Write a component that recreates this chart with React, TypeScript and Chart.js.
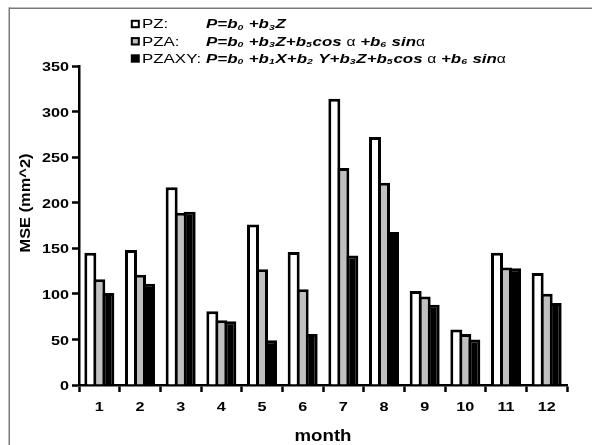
import React, { useEffect, useRef } from "react";
import { Chart, registerables } from "chart.js";

Chart.register(...registerables);

// ---- data ----
const months = ["1", "2", "3", "4", "5", "6", "7", "8", "9", "10", "11", "12"];
const pzValues = [145, 148, 217, 81, 176, 146, 314, 272, 103, 61, 145, 123];
const pzaValues = [116, 121, 189, 71, 127, 105, 238, 222, 97, 56, 129, 100];
const pzaxyValues = [101, 111, 190, 70, 49, 56, 142, 168, 88, 50, 128, 90];
const yMin = 0;
const yMax = 350;
const yStep = 50;
const seriesNames = ["PZ:", "PZA:", "PZAXY:"];
const seriesColors = ["#ffffff", "#c0c0c0", "#000000"];
const xTitle = "month";
const yTitle = "MSE (mm^2)";
// formula pieces: m = main (bold italic), s = subscript, a = alpha
const formulaPZ: [string, string][] = [
  ["m", "P=b"], ["s", "0"], ["m", " +b"], ["s", "3"], ["m", "Z"],
];
const formulaPZA: [string, string][] = [
  ["m", "P=b"], ["s", "0"], ["m", " +b"], ["s", "3"], ["m", "Z+b"], ["s", "5"],
  ["m", "cos "], ["a", "α"], ["m", " +b"], ["s", "6"], ["m", " sin"], ["a", "α"],
];
const formulaPZAXY: [string, string][] = [
  ["m", "P=b"], ["s", "0"], ["m", " +b"], ["s", "1"], ["m", "X+b"], ["s", "2"],
  ["m", " Y+b"], ["s", "3"], ["m", "Z+b"], ["s", "5"], ["m", "cos "], ["a", "α"],
  ["m", " +b"], ["s", "6"], ["m", " sin"], ["a", "α"],
];
const formulas = [formulaPZ, formulaPZA, formulaPZAXY];

const FONT = "'Liberation Sans', Arial, Helvetica, sans-serif";

function drawText(
  ctx: CanvasRenderingContext2D,
  text: string,
  x: number,
  y: number,
  font: string,
  sx: number,
  align: CanvasTextAlign,
  baseline: CanvasTextBaseline = "alphabetic"
) {
  ctx.save();
  ctx.font = font;
  ctx.fillStyle = "#000";
  ctx.translate(x, y);
  ctx.scale(sx, 1);
  ctx.textAlign = align;
  ctx.textBaseline = baseline;
  ctx.fillText(text, 0, 0);
  ctx.restore();
}

const decorPlugin = {
  id: "decor",
  afterDraw(chart: any) {
    const ctx: CanvasRenderingContext2D = chart.ctx;
    const xs = chart.scales.x;
    const ys = chart.scales.y;
    const area = chart.chartArea;

    // frame lines (top, left)
    ctx.save();
    ctx.fillStyle = "#7a7a7a";
    ctx.fillRect(9, 7.5, chart.width - 9, 1.5);
    ctx.fillRect(8.5, 7.5, 1.5, chart.height - 7.5);
    ctx.restore();

    // y tick labels
    ys.ticks.forEach((t: any, i: number) => {
      const py = ys.getPixelForTick(i);
      drawText(ctx, String(t.value), 69, py + 5.2, `bold 13.5px ${FONT}`, 1.2, "right");
    });
    // x tick labels
    xs.ticks.forEach((t: any, i: number) => {
      const px = xs.getPixelForTick(i);
      drawText(ctx, months[i], px, 411, `bold 13.5px ${FONT}`, 1.2, "center");
    });
    // x title
    drawText(ctx, xTitle, (area.left + area.right) / 2, 441, `bold 16.5px ${FONT}`, 1.13, "center");
    // y title (rotated)
    ctx.save();
    ctx.translate(26, 203);
    ctx.rotate(-Math.PI / 2);
    ctx.scale(1.06, 1);
    ctx.font = `bold 15.5px ${FONT}`;
    ctx.fillStyle = "#000";
    ctx.textAlign = "center";
    ctx.textBaseline = "middle";
    ctx.fillText(yTitle, 0, 0);
    ctx.restore();

    // legend
    const sx = 1.3;
    const baselines = [28.3, 45.6, 62.8];
    seriesNames.forEach((name, i) => {
      const by = baselines[i];
      ctx.save();
      ctx.fillStyle = "#000";
      ctx.fillRect(130.8, by - 8.5, 9, 8.4);
      ctx.fillStyle = seriesColors[i];
      ctx.fillRect(132.8, by - 6.5, 5, 4.4);
      ctx.restore();
      drawText(ctx, name, 142, by, `13px ${FONT}`, sx, "left");
      let cx = 206;
      formulas[i].forEach(([kind, txt]) => {
        let font = `italic bold 13px ${FONT}`;
        let dy = 0;
        if (kind === "s") {
          font = `italic bold 8px ${FONT}`;
          dy = 1.5;
        } else if (kind === "a") {
          font = `12px ${FONT}`;
        }
        ctx.save();
        ctx.font = font;
        const w = ctx.measureText(txt).width * sx;
        ctx.restore();
        drawText(ctx, txt, cx, by + dy, font, sx, "left");
        cx += w + (kind === "s" ? 0.8 : 0);
      });
    });
  },
};

export default function App() {
  const canvasRef = useRef<HTMLCanvasElement | null>(null);

  useEffect(() => {
    const canvas = canvasRef.current;
    if (!canvas) return;
    const mk = (label: string, data: number[], color: string) => ({
      label,
      data,
      backgroundColor: color,
      borderColor: "#000000",
      borderWidth: 3,
      categoryPercentage: 0.664,
      barPercentage: 1.333,
    });
    const chart = new Chart(canvas, {
      type: "bar",
      data: {
        labels: months,
        datasets: [
          mk("PZ", pzValues, seriesColors[0]),
          mk("PZA", pzaValues, seriesColors[1]),
          mk("PZAXY", pzaxyValues, seriesColors[2]),
        ],
      },
      options: {
        responsive: false,
        animation: false,
        devicePixelRatio: 1,
        layout: { padding: { top: 66, right: 25, left: 0, bottom: 0 } },
        plugins: { legend: { display: false }, tooltip: { enabled: false } },
        scales: {
          x: {
            grid: {
              display: true,
              drawOnChartArea: false,
              drawTicks: true,
              tickLength: 7,
              tickColor: "#000",
              tickWidth: 2.5,
              offset: true,
            },
            border: { display: true, color: "#000", width: 2.5 },
            ticks: { display: false },
            afterFit: (s: any) => {
              s.height = 60;
            },
          },
          y: {
            min: yMin,
            max: yMax,
            ticks: { display: false, stepSize: yStep },
            grid: {
              display: true,
              drawOnChartArea: false,
              drawTicks: true,
              tickLength: 7,
              tickColor: "#000",
              tickWidth: 2.5,
            },
            border: { display: true, color: "#000", width: 2.5 },
            afterFit: (s: any) => {
              s.width = 79;
            },
          },
        },
      } as any,
      plugins: [decorPlugin],
    });
    return () => chart.destroy();
  }, []);

  return (
    <div style={{ position: "absolute", left: 0, top: 0, width: 592, height: 445, background: "#fff" }}>
      <canvas ref={canvasRef} width={592} height={445} style={{ width: 592, height: 445, display: "block" }} />
    </div>
  );
}
